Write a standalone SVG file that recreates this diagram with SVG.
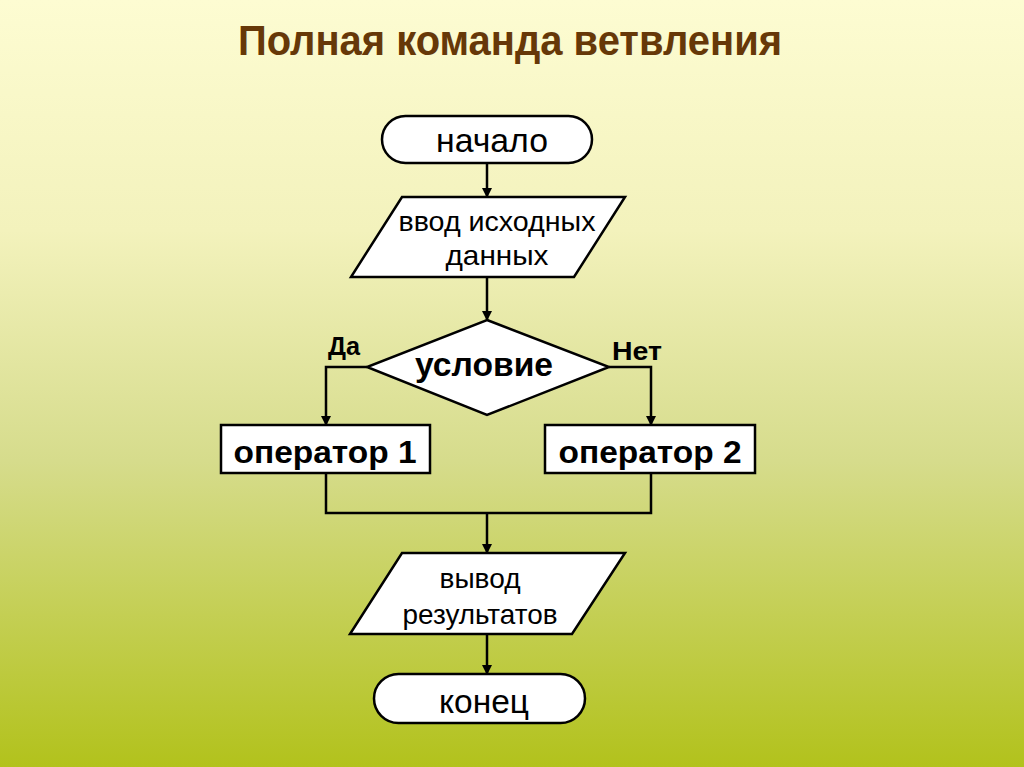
<svg xmlns="http://www.w3.org/2000/svg" width="1024" height="767" viewBox="0 0 1024 767">
<defs>
<linearGradient id="bg" x1="0" y1="0" x2="0" y2="1">
<stop offset="0" stop-color="#fdfcd2"/>
<stop offset="0.3" stop-color="#f3f2bc"/>
<stop offset="0.6" stop-color="#d6dc8c"/>
<stop offset="1" stop-color="#b2c21c"/>
</linearGradient>
<marker id="ah" markerWidth="10" markerHeight="12" refX="9" refY="6" orient="auto" markerUnits="userSpaceOnUse">
<path d="M0,1 L10,6 L0,11 z" fill="#000"/>
</marker>
<style>
.sh{fill:#fff;stroke:#000;stroke-width:2.5}
.cn{fill:none;stroke:#000;stroke-width:2.5}
.t{font-family:"Liberation Sans",Arial,sans-serif;fill:#000;text-anchor:middle}
.b{font-weight:bold}
</style>
</defs>
<rect width="1024" height="767" fill="url(#bg)"/>
<text x="510" y="55" class="t b" font-size="42" style="fill:#663808" textLength="544" lengthAdjust="spacingAndGlyphs">Полная команда ветвления</text>
<g id="connectors">
<line x1="487" y1="163" x2="487" y2="197" class="cn" marker-end="url(#ah)"/>
<line x1="487" y1="277" x2="487" y2="320" class="cn" marker-end="url(#ah)"/>
<polyline points="367,367 326,367 326,425" class="cn" marker-end="url(#ah)"/>
<polyline points="609,367 651,367 651,425" class="cn" marker-end="url(#ah)"/>
<polyline points="326,473 326,513 651,513 651,473" class="cn"/>
<line x1="487" y1="513" x2="487" y2="553" class="cn" marker-end="url(#ah)"/>
<line x1="487" y1="634" x2="487" y2="674" class="cn" marker-end="url(#ah)"/>
</g>
<g id="start">
<rect x="382" y="116" width="210" height="47" rx="23.5" class="sh"/>
<text x="492" y="152" class="t" font-size="33" textLength="112" lengthAdjust="spacingAndGlyphs">начало</text>
</g>
<g id="input">
<polygon points="402,197 625,197 574,277 351,277" class="sh"/>
<text x="497" y="231" class="t" font-size="28" textLength="197" lengthAdjust="spacingAndGlyphs">ввод исходных</text>
<text x="497" y="265" class="t" font-size="28" textLength="103" lengthAdjust="spacingAndGlyphs">данных</text>
</g>
<g id="cond">
<polygon points="487,320 609,367 487,415 367,367" class="sh"/>
<text x="484" y="376" class="t b" font-size="33" textLength="138" lengthAdjust="spacingAndGlyphs">условие</text>
<text x="344" y="355" class="t b" font-size="25" textLength="32" lengthAdjust="spacingAndGlyphs">Да</text>
<text x="637" y="360" class="t b" font-size="26" textLength="50" lengthAdjust="spacingAndGlyphs">Нет</text>
</g>
<g id="op1">
<rect x="221" y="425" width="209" height="48" class="sh"/>
<text x="325" y="463" class="t b" font-size="32" textLength="183" lengthAdjust="spacingAndGlyphs">оператор 1</text>
</g>
<g id="op2">
<rect x="545" y="425" width="210" height="48" class="sh"/>
<text x="650" y="463" class="t b" font-size="32" textLength="183" lengthAdjust="spacingAndGlyphs">оператор 2</text>
</g>
<g id="output">
<polygon points="402,553 625,553 572,634 350,634" class="sh"/>
<text x="480" y="588" class="t" font-size="28" textLength="81" lengthAdjust="spacingAndGlyphs">вывод</text>
<text x="480" y="624" class="t" font-size="28" textLength="155" lengthAdjust="spacingAndGlyphs">результатов</text>
</g>
<g id="end">
<rect x="374" y="674" width="211" height="49" rx="24.5" class="sh"/>
<text x="484" y="713" class="t" font-size="34" textLength="90" lengthAdjust="spacingAndGlyphs">конец</text>
</g>
</svg>
